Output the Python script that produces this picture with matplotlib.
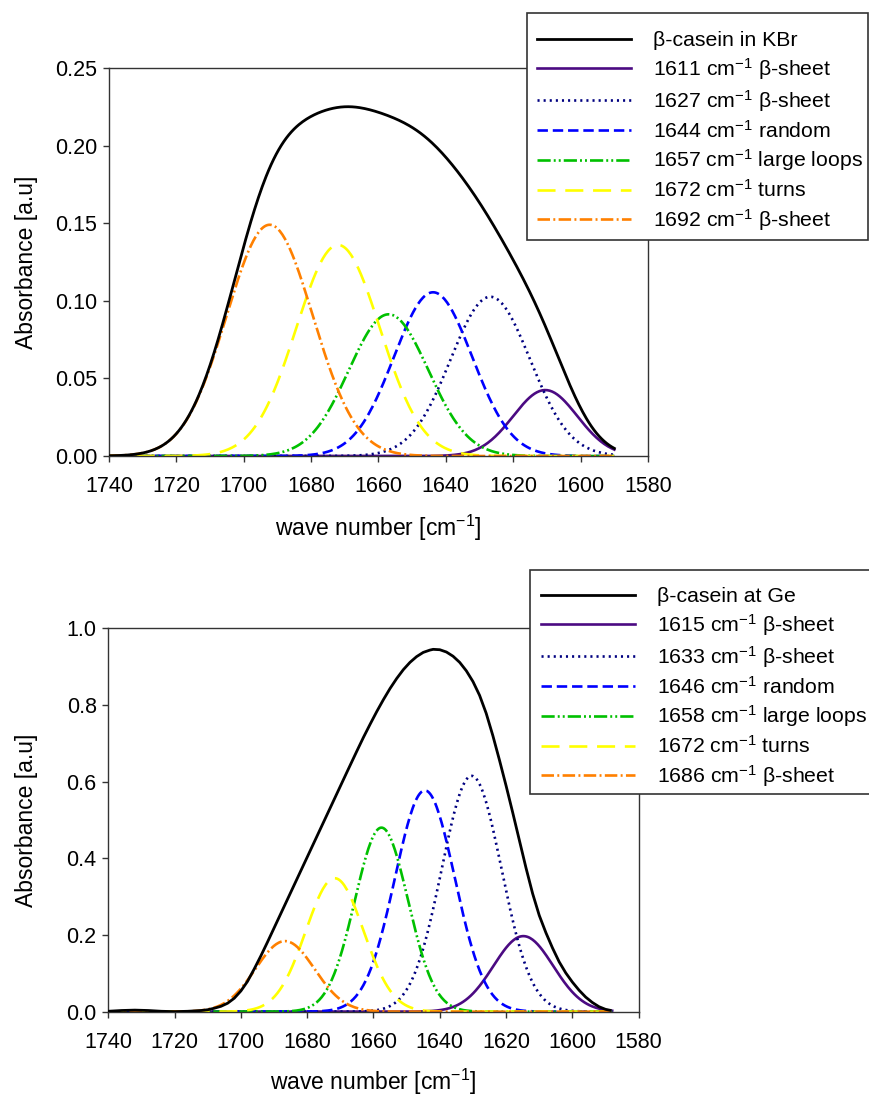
import numpy as np
import matplotlib
matplotlib.use("Agg")
import matplotlib.pyplot as plt
from matplotlib.patches import Rectangle

plt.rcParams['font.family'] = ['Liberation Sans', 'DejaVu Sans']
plt.rcParams['mathtext.fontset'] = 'custom'
plt.rcParams['mathtext.rm'] = 'Liberation Sans'
plt.rcParams['mathtext.default'] = 'regular'
plt.rcParams['lines.scale_dashes'] = False

# ---- beta-casein in KBr (top): black trace is the sum of the fitted bands ----
kbr_range = [1740, 1590]
kbr_labels = ["1611 cm$^{-1}$ \u03b2-sheet", "1627 cm$^{-1}$ \u03b2-sheet", "1644 cm$^{-1}$ random",
              "1657 cm$^{-1}$ large loops", "1672 cm$^{-1}$ turns", "1692 cm$^{-1}$ \u03b2-sheet"]
# fitted bands: centre, height, gaussian sigma
kbr_centres = [1610.5, 1626.8, 1643.8, 1657.0, 1672.0, 1692.3]
kbr_heights = [0.0425, 0.1026, 0.1055, 0.0913, 0.136, 0.149]
kbr_sigmas = [9.5, 11.8, 11.6, 11.8, 12.4, 12.8]

ge_x = [1740, 1736, 1732, 1728, 1724, 1720, 1716, 1712, 1710, 1708, 1706, 1704, 1702, 1700,
        1698, 1696, 1694, 1692, 1688, 1684, 1680, 1676, 1672, 1668, 1665, 1663, 1661, 1659,
        1657, 1655, 1653, 1651, 1649, 1647, 1645, 1643, 1642, 1640, 1638, 1636, 1634, 1632,
        1630, 1628, 1626, 1624, 1622, 1620, 1618, 1616, 1614, 1612, 1610, 1608, 1606, 1604,
        1602, 1600, 1598, 1596, 1594, 1592, 1590, 1588.6]
ge_y = [0.001, 0.003, 0.004, 0.003, 0.001, 0.000, 0.001, 0.003, 0.005, 0.009, 0.014, 0.022,
        0.035, 0.054, 0.079, 0.111, 0.145, 0.181, 0.255, 0.329, 0.403, 0.477, 0.551, 0.625,
        0.680, 0.716, 0.750, 0.783, 0.814, 0.843, 0.869, 0.892, 0.911, 0.926, 0.937, 0.943,
        0.945, 0.944, 0.938, 0.927, 0.911, 0.889, 0.861, 0.825, 0.778, 0.720, 0.656, 0.589,
        0.519, 0.447, 0.375, 0.308, 0.251, 0.206, 0.166, 0.130, 0.101, 0.077, 0.056, 0.038,
        0.024, 0.013, 0.006, 0.0035]
ge_labels = ["1615 cm$^{-1}$ \u03b2-sheet", "1633 cm$^{-1}$ \u03b2-sheet", "1646 cm$^{-1}$ random",
             "1658 cm$^{-1}$ large loops", "1672 cm$^{-1}$ turns", "1686 cm$^{-1}$ \u03b2-sheet"]
ge_centres = [1614.8, 1630.4, 1644.5, 1657.6, 1671.7, 1686.7]
ge_heights = [0.197, 0.615, 0.577, 0.480, 0.348, 0.184]
ge_sigmas = [9.0, 9.0, 9.0, 8.0, 8.7, 8.9]

colors = ["#4b0a82", "#000080", "#0000ff", "#00c000", "#ffff00", "#ff8000"]
dashes = [
    "-",
    (0, (1.5, 2.9)),
    (0, (7.5, 3.5)),
    (0, (9.5, 2.2, 1.4, 2.2, 1.4, 2.2)),
    (0, (13, 7)),
    (0, (9, 2.4, 1.4, 2.4)),
]
FS = 15.5


def bands(x, centres, heights, sigmas):
    return [h * np.exp(-(x - c) ** 2 / (2 * s ** 2)) for c, h, s in zip(centres, heights, sigmas)]


def panel(ax, bx, by, xr, centres, heights, sigmas, labels, total_label, ylim, yticks, fmt):
    x = np.linspace(xr[0], xr[1], 400)
    comps = bands(x, centres, heights, sigmas)
    if bx is None:
        bx, by = x, np.sum(comps, axis=0)
    handles = []
    h, = ax.plot(bx, by, color="black", lw=2.0, label=total_label, zorder=3)
    handles.append(h)
    for i in range(len(comps)):
        h, = ax.plot(x, comps[i], color=colors[i], linestyle=dashes[i], lw=1.9, label=labels[i])
        handles.append(h)
    ax.set_xlim(1740, 1580)
    ax.set_ylim(ylim)
    ax.set_xticks(range(1740, 1579, -20))
    ax.set_yticks(yticks)
    ax.set_yticklabels([fmt % v for v in yticks])
    ax.tick_params(direction="out", length=4.3, width=1, labelsize=FS, color="#333333")
    ax.tick_params(axis="x", pad=10)
    ax.tick_params(axis="y", pad=4)
    for s in ax.spines.values():
        s.set_color("#333333")
        s.set_linewidth(1)
    ax.set_xlabel("wave number [cm$^{-1}$]", fontsize=16.5, va="center")
    ax.set_ylabel("Absorbance [a.u]", fontsize=16.5, va="center", ha="center")
    return handles


def legend_box(fig, handles, x0, y0, x1, y1, hx, rowtop):
    W, H = 869.0, 1097.0
    rect = Rectangle((x0 / W, 1 - y1 / H), (x1 - x0) / W, (y1 - y0) / H, transform=fig.transFigure,
                     facecolor="white", edgecolor="#333333", lw=1.2, zorder=4)
    fig.add_artist(rect)
    fs_px = 15.3 * 100 / 72.0
    leg = fig.legend(handles=handles, loc="upper left", bbox_to_anchor=(hx / W, 1 - rowtop / H),
                     fontsize=15.3, frameon=False, borderpad=0, borderaxespad=0,
                     handlelength=94 / fs_px, handletextpad=22 / fs_px, labelspacing=0.28)
    leg.set_zorder(5)
    return leg


fig = plt.figure(figsize=(8.69, 10.97), dpi=100)

ax1 = fig.add_axes([0.1254, 0.5843, 0.6203, 0.3537])
h1 = panel(ax1, None, None, kbr_range, kbr_centres, kbr_heights, kbr_sigmas, kbr_labels,
           "\u03b2-casein in KBr", (0, 0.25), [0, 0.05, 0.10, 0.15, 0.20, 0.25], "%.2f")
ax1.xaxis.set_label_coords(0.5, -(528 - 456) / 388.0)
ax1.yaxis.set_label_coords(-(109 - 27) / 539.0, 0.5)
legend_box(fig, h1, 527, 13, 868, 240, 537, 31)

ax2 = fig.add_axes([0.1246, 0.0778, 0.6104, 0.3495])
h2 = panel(ax2, ge_x, ge_y, [1740, 1588], ge_centres, ge_heights, ge_sigmas, ge_labels,
           "\u03b2-casein at Ge", (0, 1.0), [0, 0.2, 0.4, 0.6, 0.8, 1.0], "%.1f")
ax2.xaxis.set_label_coords(0.5, -(1082 - 1011.7) / 383.4)
ax2.yaxis.set_label_coords(-(108.3 - 27) / 530.4, 0.5)
legend_box(fig, h2, 530, 570, 880, 794, 541, 587)

fig.savefig("out.png", dpi=100)
